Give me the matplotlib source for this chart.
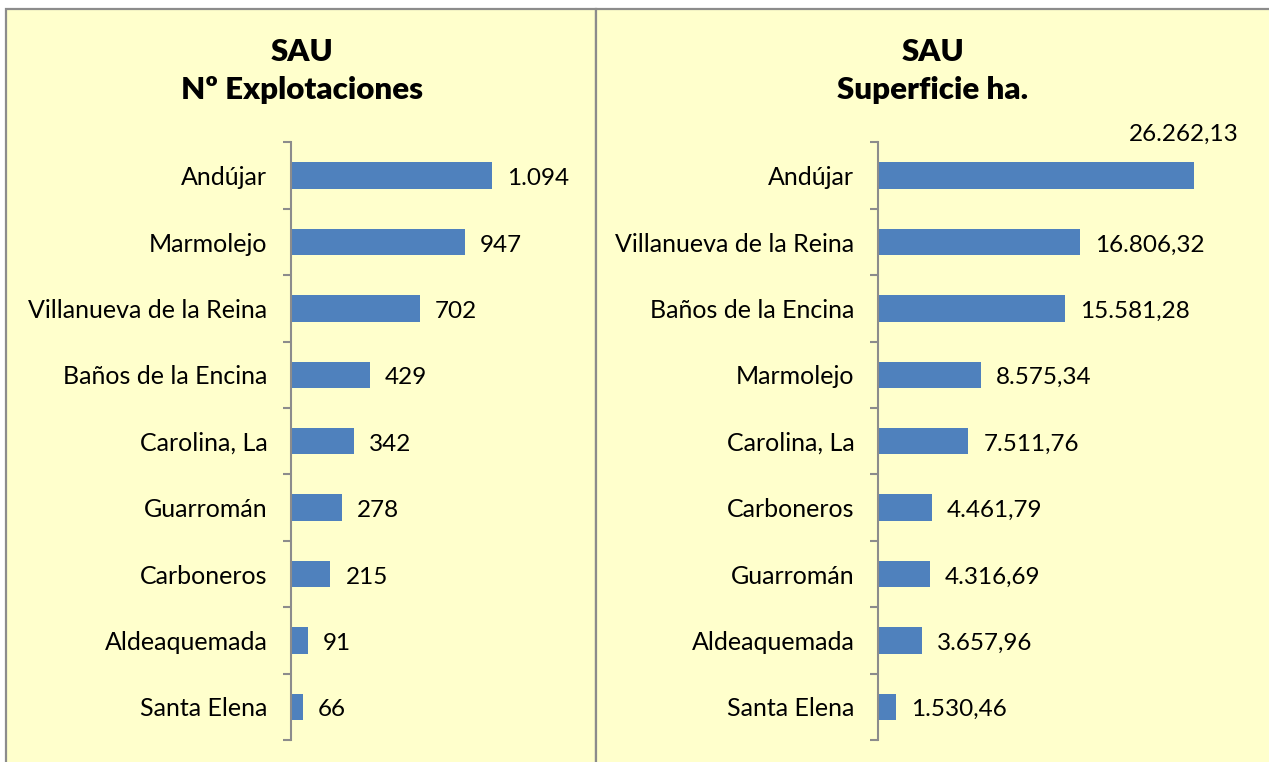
import matplotlib
matplotlib.use("Agg")
import matplotlib.pyplot as plt
from matplotlib.patches import Rectangle
from matplotlib.ticker import FixedLocator

plt.rcParams['font.family'] = ['Lato', 'DejaVu Sans']

# Data
exp_names = ["Andújar", "Marmolejo", "Villanueva de la Reina", "Baños de la Encina",
             "Carolina, La", "Guarromán", "Carboneros", "Aldeaquemada", "Santa Elena"]
exp_values = [1094, 947, 702, 429, 342, 278, 215, 91, 66]
exp_labels = ["1.094", "947", "702", "429", "342", "278", "215", "91", "66"]

sup_names = ["Andújar", "Villanueva de la Reina", "Baños de la Encina", "Marmolejo",
             "Carolina, La", "Carboneros", "Guarromán", "Aldeaquemada", "Santa Elena"]
sup_values = [26262.13, 16806.32, 15581.28, 8575.34, 7511.76, 4461.79, 4316.69, 3657.96, 1530.46]
sup_labels = ["26.262,13", "16.806,32", "15.581,28", "8.575,34", "7.511,76",
              "4.461,79", "4.316,69", "3.657,96", "1.530,46"]

titles = ["SAU\nNº Explotaciones", "SAU\nSuperficie ha."]

W, H = 1269, 762
fig = plt.figure(figsize=(W / 100, H / 100), dpi=100)
fig.patch.set_facecolor("white")

bg = "#FFFFCC"
border = "#8C8C8C"
bar_color = "#4F81BD"
spine_color = "#8C8C8C"

# panel backgrounds
for (x0, x1) in [(6, 596), (596, 1275)]:
    fig.patches.append(Rectangle((x0 / W, -0.05), (x1 - x0) / W, (H - 9) / H + 0.05,
                                 transform=fig.transFigure, facecolor=bg,
                                 edgecolor=border, linewidth=1.6, zorder=-5))

def draw(ax, names, values, labels, xmax, offset_px, top_above=False):
    n = len(names)
    y = list(range(n))
    ax.set_zorder(5)
    ax.barh(y, values, height=0.4, color=bar_color, zorder=2)
    ax.set_xlim(0, xmax)
    ax.set_ylim(n - 0.5, -0.5)
    ax.set_facecolor("none")
    for s in ["top", "right", "bottom"]:
        ax.spines[s].set_visible(False)
    ax.spines["left"].set_color(spine_color)
    ax.spines["left"].set_linewidth(1.5)
    ax.set_xticks([])
    ax.set_yticks(y)
    ax.set_yticklabels(names, fontsize=18)
    ax.tick_params(axis="y", which="major", length=0, pad=17)
    ax.yaxis.set_minor_locator(FixedLocator([k - 0.5 for k in range(n + 1)]))
    ax.tick_params(axis="y", which="minor", length=6, width=1.5, color=spine_color)
    for i, (v, lab) in enumerate(zip(values, labels)):
        if top_above and i == 0:
            ax.annotate(lab, xy=(1.0, i), xycoords=("axes fraction", "data"),
                        xytext=(0, 41), textcoords="offset pixels",
                        ha="right", va="center", fontsize=17.5)
        else:
            ax.annotate(lab, xy=(v, i), xytext=(offset_px, -3), textcoords="offset pixels",
                        ha="left", va="center", fontsize=17.5)

ax1 = fig.add_axes([291 / W, 22 / H, 257 / W, 597.6 / H])
draw(ax1, exp_names, exp_values, exp_labels, 1400, 15)
ax2 = fig.add_axes([878 / W, 22 / H, 361 / W, 597.6 / H])
draw(ax2, sup_names, sup_values, sup_labels, 30000, 15, top_above=True)

fig.text(302 / W, 1 - 71 / H, titles[0], ha="center", va="center", fontsize=22.5,
         fontweight="heavy", linespacing=1.4)
fig.text(933 / W, 1 - 71 / H, titles[1], ha="center", va="center", fontsize=22.5,
         fontweight="heavy", linespacing=1.4)

fig.savefig("out.png", dpi=100, facecolor="white")
